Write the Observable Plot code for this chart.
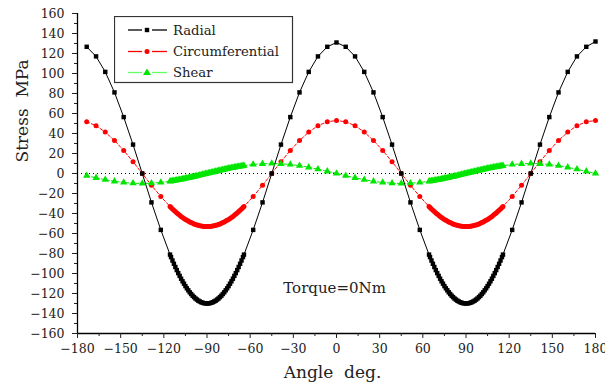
<!DOCTYPE html>
<html><head><meta charset="utf-8">
<script src="https://cdn.jsdelivr.net/npm/d3@7"></script>
<script src="https://cdn.jsdelivr.net/npm/@observablehq/plot@0.6"></script>
<style>
body{margin:0;background:#fff;}
#wrap{position:relative;width:605px;height:392px;}
#legend{position:absolute;left:114px;top:16px;}
</style></head><body><div id="wrap"></div>
<script>
const FONT = "'DejaVu Serif', 'Liberation Serif', serif";
const angle = [
-173.6,-167.1,-160.7,-154.3,-147.9,-141.4,-135.0,-128.6,-122.1,-115.7,
-115,-114,-113,-112,-111,-110,-109,-108,-107,-106,-105,-104,-103,-102,-101,-100,-99,-98,-97,-96,-95,-94,-93,-92,-91,-90,
-89,-88,-87,-86,-85,-84,-83,-82,-81,-80,-79,-78,-77,-76,-75,-74,-73,-72,-71,-70,-69,-68,-67,-66,-65,
-64.3,-57.9,-51.4,-45.0,-38.6,-32.1,-25.7,-19.3,-12.9,-6.4,0,6.4,12.9,19.3,25.7,32.1,38.6,45.0,51.4,57.9,64.3,
65,66,67,68,69,70,71,72,73,74,75,76,77,78,79,80,81,82,83,84,85,86,87,88,89,90,
91,92,93,94,95,96,97,98,99,100,101,102,103,104,105,106,107,108,109,110,111,112,113,114,115,
115.7,122.1,128.6,135.0,141.4,147.9,154.3,160.7,167.1,173.6,180.0];
const radial = [
126.7,117.1,101.6,81.1,56.4,28.9,0,-28.9,-56.4,-81.1,
-83.6,-87.0,-90.3,-93.5,-96.6,-99.6,-102.4,-105.2,-107.8,-110.2,-112.6,-114.8,-116.8,-118.8,-120.5,-122.2,-123.6,-125.0,-126.1,-127.2,-128.0,-128.7,-129.3,-129.7,-129.9,-130,
-129.9,-129.7,-129.3,-128.7,-128.0,-127.2,-126.1,-125.0,-123.6,-122.2,-120.5,-118.8,-116.8,-114.8,-112.6,-110.2,-107.8,-105.2,-102.4,-99.6,-96.6,-93.5,-90.3,-87.0,-83.6,
-81.1,-56.4,-28.9,0,28.9,56.4,81.1,101.6,117.1,126.7,131,126.7,117.1,101.6,81.1,56.4,28.9,0,-28.9,-56.4,-81.1,
-83.6,-87.0,-90.3,-93.5,-96.6,-99.6,-102.4,-105.2,-107.8,-110.2,-112.6,-114.8,-116.8,-118.8,-120.5,-122.2,-123.6,-125.0,-126.1,-127.2,-128.0,-128.7,-129.3,-129.7,-129.9,-130,
-129.9,-129.7,-129.3,-128.7,-128.0,-127.2,-126.1,-125.0,-123.6,-122.2,-120.5,-118.8,-116.8,-114.8,-112.6,-110.2,-107.8,-105.2,-102.4,-99.6,-96.6,-93.5,-90.3,-87.0,-83.6,
-81.1,-56.4,-28.9,0,28.9,56.4,81.1,101.6,117.1,126.7,132];
const circumferential = [
51.7,47.8,41.4,33.0,23.0,11.8,0,-11.8,-23.0,-33.0,
-34.1,-35.5,-36.8,-38.1,-39.4,-40.6,-41.8,-42.9,-43.9,-44.9,-45.9,-46.8,-47.6,-48.4,-49.1,-49.8,-50.4,-50.9,-51.4,-51.8,-52.2,-52.5,-52.7,-52.9,-53.0,-53,
-53.0,-52.9,-52.7,-52.5,-52.2,-51.8,-51.4,-50.9,-50.4,-49.8,-49.1,-48.4,-47.6,-46.8,-45.9,-44.9,-43.9,-42.9,-41.8,-40.6,-39.4,-38.1,-36.8,-35.5,-34.1,
-33.0,-23.0,-11.8,0,11.8,23.0,33.0,41.4,47.8,51.7,53,51.7,47.8,41.4,33.0,23.0,11.8,0,-11.8,-23.0,-33.0,
-34.1,-35.5,-36.8,-38.1,-39.4,-40.6,-41.8,-42.9,-43.9,-44.9,-45.9,-46.8,-47.6,-48.4,-49.1,-49.8,-50.4,-50.9,-51.4,-51.8,-52.2,-52.5,-52.7,-52.9,-53.0,-53,
-53.0,-52.9,-52.7,-52.5,-52.2,-51.8,-51.4,-50.9,-50.4,-49.8,-49.1,-48.4,-47.6,-46.8,-45.9,-44.9,-43.9,-42.9,-41.8,-40.6,-39.4,-38.1,-36.8,-35.5,-34.1,
-33.0,-23.0,-11.8,0,11.8,23.0,33.0,41.4,47.8,51.7,53];
const shear = [
-2.2,-4.3,-6.2,-7.8,-9.0,-9.7,-10,-9.7,-9.0,-7.8,
-7.7,-7.4,-7.2,-6.9,-6.7,-6.4,-6.2,-5.9,-5.6,-5.3,-5.0,-4.7,-4.4,-4.1,-3.7,-3.4,-3.1,-2.8,-2.4,-2.1,-1.7,-1.4,-1.0,-0.7,-0.3,0,
0.3,0.7,1.0,1.4,1.7,2.1,2.4,2.8,3.1,3.4,3.7,4.1,4.4,4.7,5.0,5.3,5.6,5.9,6.2,6.4,6.7,6.9,7.2,7.4,7.7,
7.8,9.0,9.7,10,9.7,9.0,7.8,6.2,4.3,2.2,0,-2.2,-4.3,-6.2,-7.8,-9.0,-9.7,-10,-9.7,-9.0,-7.8,
-7.7,-7.4,-7.2,-6.9,-6.7,-6.4,-6.2,-5.9,-5.6,-5.3,-5.0,-4.7,-4.4,-4.1,-3.7,-3.4,-3.1,-2.8,-2.4,-2.1,-1.7,-1.4,-1.0,-0.7,-0.3,0,
0.3,0.7,1.0,1.4,1.7,2.1,2.4,2.8,3.1,3.4,3.7,4.1,4.4,4.7,5.0,5.3,5.6,5.9,6.2,6.4,6.7,6.9,7.2,7.4,7.7,
7.8,9.0,9.7,10,9.7,9.0,7.8,6.2,4.3,2.2,0];

const xTicks = [-180,-150,-120,-90,-60,-30,0,30,60,90,120,150,180];
const xMinor = [-165,-135,-105,-75,-45,-15,15,45,75,105,135,165];
const yTicks = [-160,-140,-120,-100,-80,-60,-40,-20,0,20,40,60,80,100,120,140,160];
const yMinor = [-150,-130,-110,-90,-70,-50,-30,-10,10,30,50,70,90,110,130,150];
const seriesNames = ["Radial","Circumferential","Shear"];
const seriesColors = ["#000000","#ff0000","#00e600"];
const notes = [{angle:-37, stress:-115, label:"Torque=0Nm"}];
const xTitle = "Angle  deg.";
const yTitle = "Stress  MPa";

const rows = angle.map((a,i)=>({a, r:radial[i], c:circumferential[i], s:shear[i]}));
const fmt = d => d < 0 ? "\u2212" + (-d) : String(d);

const marks = [
  Plot.ruleY([0], {stroke:"#000", strokeDasharray:"1,3", strokeWidth:1}),
  Plot.line(rows, {x:"a", y:"c", stroke:seriesColors[1], strokeWidth:1, strokeDasharray:"3,2"}),
  Plot.line(rows, {x:"a", y:"s", stroke:seriesColors[2], strokeWidth:1, strokeDasharray:"3,2"}),
  Plot.line(rows, {x:"a", y:"r", stroke:seriesColors[0], strokeWidth:1}),
  Plot.dot(rows, {x:"a", y:"c", fill:seriesColors[1], r:2.5, stroke:null}),
  Plot.dot(rows, {x:"a", y:"s", fill:seriesColors[2], symbol:"triangle", r:2.7, stroke:null}),
  Plot.dot(rows, {x:"a", y:"r", fill:seriesColors[0], symbol:"square", r:2.5, stroke:null}),
  Plot.ruleX([-180], {stroke:"#000", strokeWidth:1.3}),
  Plot.ruleY([-160], {stroke:"#000", strokeWidth:1.3}),
  Plot.text(notes, {x:"angle", y:"stress", text:"label", textAnchor:"start", fontSize:15, fill:"#222"}),
  Plot.text([xTitle], {frameAnchor:"bottom", dy:44, dx:-4, fontSize:17, fill:"#222"}),
  Plot.text([yTitle], {frameAnchor:"left", dx:-55, dy:-11, rotate:-90, fontSize:17, fill:"#222"})
];
const hasAxisMarks = typeof Plot.axisX === "function";
if (hasAxisMarks) {
  marks.push(
    Plot.axisX({ticks:xTicks, tickSize:5, tickPadding:6, tickFormat:fmt, label:null, fontSize:12.5}),
    Plot.axisX({ticks:xMinor, tickSize:3, tickFormat:()=>"", label:null}),
    Plot.axisY({ticks:yTicks, tickSize:5, tickPadding:8, tickFormat:fmt, label:null, fontSize:12.5}),
    Plot.axisY({ticks:yMinor, tickSize:3, tickFormat:()=>"", label:null})
  );
}

const chart = Plot.plot({
  width:605, height:392,
  marginLeft:77, marginRight:10, marginTop:13, marginBottom:59,
  style:{fontFamily:FONT, fontSize:"12.5px", color:"#222", background:"#fff", overflow:"visible"},
  x:{domain:[-180,180], label:null, ...(hasAxisMarks ? {} : {ticks:xTicks, tickFormat:fmt, tickSize:5})},
  y:{domain:[-160,160], label:null, ...(hasAxisMarks ? {} : {ticks:yTicks, tickFormat:fmt, tickSize:5})},
  marks
});
const wrap = document.getElementById("wrap");
wrap.appendChild(chart);

// legend
const legend = document.createElement("div");
legend.id = "legend";
const ns = "http://www.w3.org/2000/svg";
const svg = document.createElementNS(ns, "svg");
svg.setAttribute("width", 180); svg.setAttribute("height", 68);
svg.style.fontFamily = FONT;
let html = `<rect x="0.5" y="0.5" width="178" height="66" fill="#fff" stroke="#333" stroke-width="1.2"/>`;
const rowY = [14, 35.5, 56.5];
seriesNames.forEach((name, i) => {
  const c = i === 2 ? "#66ff66" : seriesColors[i];
  const y = rowY[i];
  let marker;
  if (i === 0) marker = `<rect x="30.8" y="${y-2.2}" width="4.4" height="4.4" fill="${seriesColors[0]}"/>`;
  else if (i === 1) marker = `<circle cx="33" cy="${y}" r="2.5" fill="${seriesColors[1]}"/>`;
  else marker = `<path d="M33,${y-4}L37,${y+2.5}L29,${y+2.5}Z" fill="${seriesColors[2]}"/>`;
  html += `<line x1="14" x2="28" y1="${y}" y2="${y}" stroke="${c}" stroke-width="1.3"/>
    <line x1="38" x2="53" y1="${y}" y2="${y}" stroke="${c}" stroke-width="1.3"/>${marker}
    <text x="59" y="${y}" dy="0.35em" font-size="13.2" fill="#222">${name}</text>`;
});
svg.innerHTML = html;
legend.appendChild(svg);
wrap.appendChild(legend);
</script>
</body></html>
